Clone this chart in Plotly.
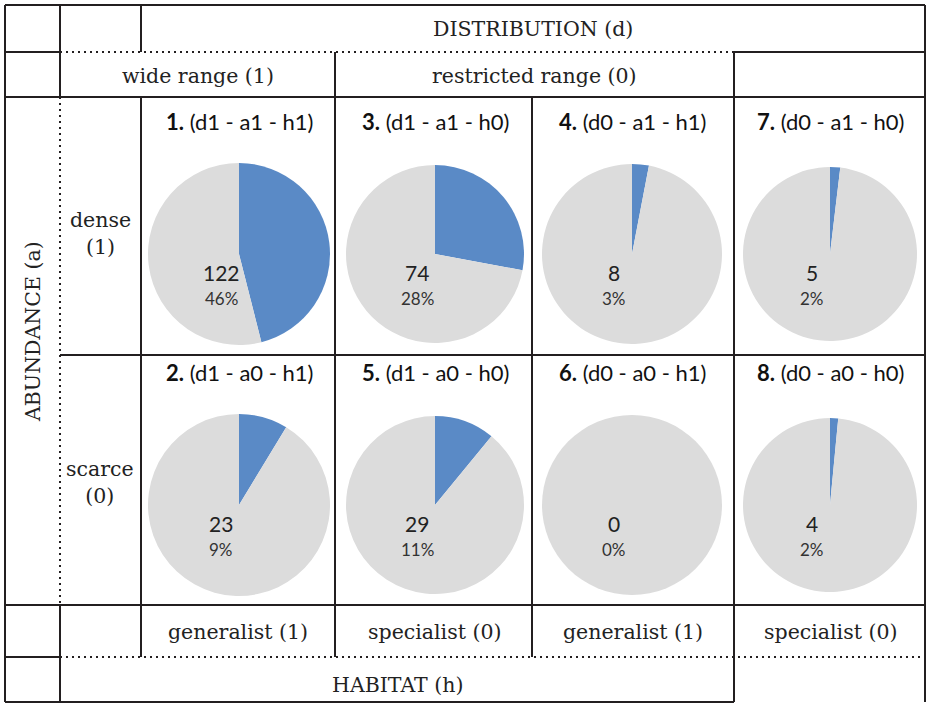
import plotly.graph_objects as go

# ---------------- data ----------------
panel_numbers = ["1.", "3.", "4.", "7.", "2.", "5.", "6.", "8."]
panel_codes = ["(d1 - a1 - h1)", "(d1 - a1 - h0)", "(d0 - a1 - h1)", "(d0 - a1 - h0)",
               "(d1 - a0 - h1)", "(d1 - a0 - h0)", "(d0 - a0 - h1)", "(d0 - a0 - h0)"]
counts = [122, 74, 8, 5, 23, 29, 0, 4]
total = sum(counts)
pct_labels = [f"{round(c / total * 100)}%" for c in counts]

distribution_title = "DISTRIBUTION (d)"
distribution_labels = ["wide range (1)", "restricted range (0)"]
abundance_title = "ABUNDANCE (a)"
abundance_labels = ["dense<br>(1)", "scarce<br>(0)"]
habitat_title = "HABITAT (h)"
habitat_labels = ["generalist (1)", "specialist (0)", "generalist (1)", "specialist (0)"]

BLUE = "#5A8AC6"
GREY = "#DCDCDC"
INK = "#231F20"

# ---------------- layout geometry (pixels) ----------------
W, H = 927, 704


def px(x):
    return x / W


def py(y):
    return 1 - y / H


col_centers = [239, 435, 632, 830]
row_centers = [254, 505]
radii = [91, 89, 90, 87]

fig = go.Figure()

for i, c in enumerate(counts):
    r_i, c_i = divmod(i, 4)
    cx, cy, r = col_centers[c_i], row_centers[r_i], radii[c_i]
    fig.add_trace(go.Pie(
        values=[c, total - c],
        labels=["in class", "others"],
        marker=dict(colors=[BLUE, GREY], line=dict(width=0)),
        sort=False, direction="clockwise", rotation=0,
        textinfo="none", hoverinfo="skip", showlegend=False,
        domain=dict(x=[px(cx - r), px(cx + r)], y=[py(cy + r), py(cy - r)]),
    ))
    # panel title
    fig.add_annotation(x=px(col_centers[c_i]), y=py(row_centers[r_i] - 133),
                       text=f"<b>{panel_numbers[i]}</b> {panel_codes[i]}",
                       showarrow=False, xanchor="center", yanchor="middle",
                       font=dict(family="Lato", size=22, color="#111111"))
    # value labels
    fig.add_annotation(x=px(cx - 18), y=py(cy + 18), text=str(c), showarrow=False,
                       xanchor="center", yanchor="middle",
                       font=dict(family="Lato", size=21, color="#222222"))
    fig.add_annotation(x=px(cx - 18), y=py(cy + 44), text=pct_labels[i], showarrow=False,
                       xanchor="center", yanchor="middle",
                       font=dict(family="Lato", size=17, color="#333333"))

serif = dict(family="DejaVu Serif", size=20.5, color="#222222")


def label(x, y, text, angle=0):
    fig.add_annotation(x=px(x), y=py(y), text=text, showarrow=False,
                       xanchor="center", yanchor="middle", textangle=angle, font=serif)


label(533, 29, distribution_title)
label(198, 76, distribution_labels[0])
label(534, 76, distribution_labels[1])
label(33, 332, abundance_title, angle=-90)
label(100, 233, abundance_labels[0])
label(100, 482, abundance_labels[1])
for k, t in enumerate(habitat_labels):
    label([238, 434, 633, 830][k], 632, t)
label(397, 685, habitat_title)

# ---------------- grid ----------------
solid = [
    (5, 5, 925, 5), (5, 5, 5, 702), (925, 5, 925, 702), (5, 702, 734, 702),
    (5, 52, 60, 52), (734, 52, 925, 52),
    (5, 97, 925, 97), (60, 355, 925, 355), (5, 605, 925, 605), (5, 657, 60, 657),
    (60, 5, 60, 97), (60, 605, 60, 702),
    (141, 5, 141, 52), (141, 97, 141, 657),
    (335, 52, 335, 657), (532, 97, 532, 657), (734, 52, 734, 702),
]
dotted = [(60, 52, 734, 52), (60, 657, 925, 657), (60, 97, 60, 605)]

for x0, y0, x1, y1 in solid:
    fig.add_shape(type="line", xref="paper", yref="paper",
                  x0=px(x0), y0=py(y0), x1=px(x1), y1=py(y1),
                  line=dict(color=INK, width=2))
for x0, y0, x1, y1 in dotted:
    fig.add_shape(type="line", xref="paper", yref="paper",
                  x0=px(x0), y0=py(y0), x1=px(x1), y1=py(y1),
                  line=dict(color=INK, width=2, dash="2px,4px"))

fig.update_layout(width=W, height=H, margin=dict(l=0, r=0, t=0, b=0),
                  paper_bgcolor="white", plot_bgcolor="white", showlegend=False)

fig.write_html("out.html", config={"displayModeBar": False},
               post_script="document.body.style.margin='0';")
